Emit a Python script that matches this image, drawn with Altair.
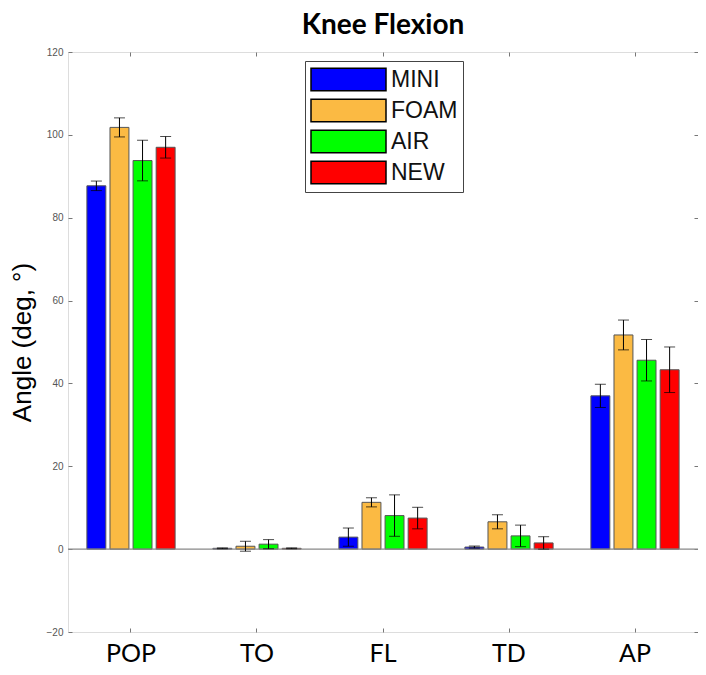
import altair as alt
import pandas as pd

categories = ["POP", "TO", "FL", "TD", "AP"]
groups = ["MINI", "FOAM", "AIR", "NEW"]
colors = ["#0000FF", "#FBBA43", "#00FF00", "#FF0000"]

mini = [87.7, 0.2, 2.9, 0.5, 37.0]
foam = [101.8, 0.7, 11.3, 6.6, 51.7]
air = [93.8, 1.2, 8.1, 3.2, 45.6]
new = [97.0, 0.2, 7.5, 1.5, 43.3]

mini_err = [1.15, 0.1, 2.2, 0.25, 2.8]
foam_err = [2.3, 1.2, 1.1, 1.7, 3.6]
air_err = [4.9, 1.1, 5.0, 2.6, 5.0]
new_err = [2.6, 0.1, 2.6, 1.5, 5.5]

y_ticks = [-20, 0, 20, 40, 60, 80, 100, 120]

rows = []
for g, vals, errs in [("MINI", mini, mini_err), ("FOAM", foam, foam_err),
                      ("AIR", air, air_err), ("NEW", new, new_err)]:
    for c, v, e in zip(categories, vals, errs):
        rows.append({"cat": c, "grp": g, "val": v, "lo": v - e, "hi": v + e})
df = pd.DataFrame(rows)

x_scale = alt.Scale(paddingInner=0.3, paddingOuter=0.15)
x_bottom = alt.X("cat:N", sort=categories, title=None, scale=x_scale,
                 axis=alt.Axis(labelFontSize=25, labelFont="Lato", labelColor="#000",
                               labelAngle=0, ticks=True, tickSize=4, tickColor="#777",
                               offset=-4, domain=False, labelBaseline="alphabetic",
                               labelPadding=29))
x_top = alt.X("cat:N", sort=categories, title=None, scale=x_scale,
              axis=alt.Axis(orient="top", labels=False, domain=False, ticks=True,
                            tickSize=4, tickColor="#777", offset=-4))
x_plain = alt.X("cat:N", sort=categories, scale=x_scale, axis=None)
xo = alt.XOffset("grp:N", sort=groups, scale=alt.Scale(paddingInner=0.18))
y_scale = alt.Scale(domain=[-20, 120], nice=False, zero=False)

base = alt.Chart(df)

bars = base.mark_bar(stroke="#555555", strokeWidth=1).encode(
    x=x_bottom,
    xOffset=xo,
    y=alt.Y("val:Q", scale=y_scale, title="Angle (deg, °)",
            axis=alt.Axis(values=y_ticks, grid=False, offset=-4,
                          labelFontSize=10, labelFont="Liberation Sans", labelColor="#555",
                          tickSize=4, tickColor="#777", domain=False,
                          titleFontSize=26, titleFont="Liberation Sans",
                          titleFontWeight="normal",
                          titleColor="#000", titlePadding=11, labelPadding=5)),
    color=alt.Color("grp:N", sort=groups,
                    scale=alt.Scale(domain=groups, range=colors),
                    legend=alt.Legend(title=None, orient="none", legendX=237, legendY=9,
                                      symbolType="M-1,-0.9H5V0.9H-1Z", symbolSize=625,
                                      symbolStrokeColor="#000", symbolStrokeWidth=1.5,
                                      symbolOpacity=1,
                                      labelFontSize=23, labelFont="Liberation Sans",
                                      labelColor="#111", labelOffset=54,
                                      rowPadding=2, padding=5,
                                      fillColor="white", strokeColor="#444")),
)

zero = alt.Chart(pd.DataFrame({"z": [0]})).mark_rule(color="#888", strokeWidth=1.2).encode(
    y=alt.Y("z:Q", scale=y_scale,
            axis=alt.Axis(orient="right", values=y_ticks, labels=False, domain=False,
                          grid=False, tickSize=4, tickColor="#777", offset=-4, title=None)))

err = base.mark_rule(color="#000", strokeWidth=1).encode(
    x=x_top, xOffset=xo, y=alt.Y("lo:Q", scale=y_scale, axis=None), y2="hi:Q")
cap_lo = base.mark_tick(color="#000", thickness=1, size=11, orient="horizontal").encode(
    x=x_plain, xOffset=xo, y=alt.Y("lo:Q", scale=y_scale, axis=None))
cap_hi = base.mark_tick(color="#000", thickness=1, size=11, orient="horizontal").encode(
    x=x_plain, xOffset=xo, y=alt.Y("hi:Q", scale=y_scale, axis=None))

chart = alt.layer(bars, zero, err, cap_lo, cap_hi).resolve_axis(
    x="independent", y="independent"
).properties(
    width=630, height=580,
    title=alt.Title("Knee Flexion", fontSize=28, font="Lato", fontWeight="bold",
                    color="#000", offset=7, anchor="middle"),
    autosize=alt.AutoSizeParams(type="none"),
    padding={"left": 60, "top": 44, "right": 0, "bottom": 35},
).configure_view(stroke="#777", strokeWidth=1.2).configure(background="white")

chart.save("out.html", embed_options={"renderer": "svg", "actions": False})
